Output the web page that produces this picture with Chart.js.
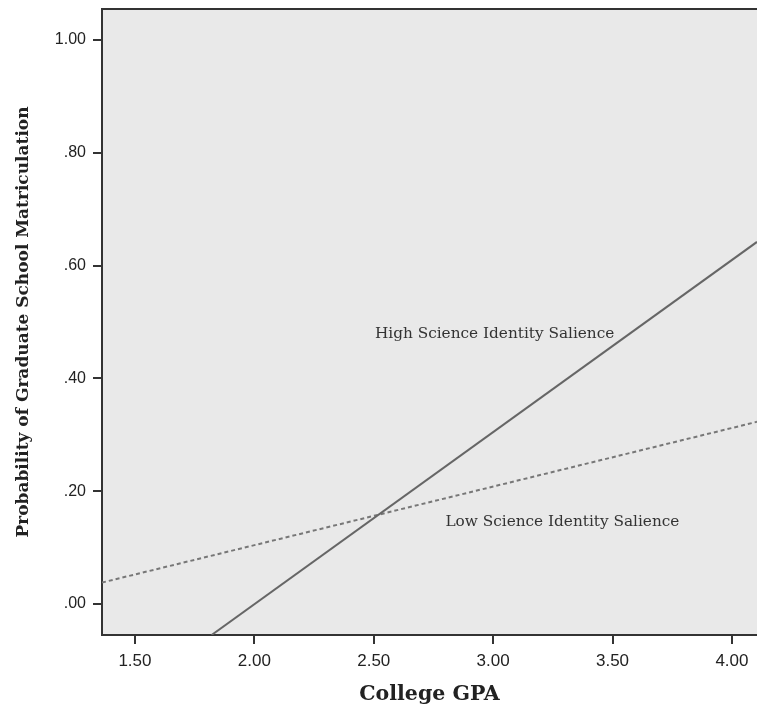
<!DOCTYPE html>
<html>
<head>
<meta charset="utf-8">
<script src="https://cdn.jsdelivr.net/npm/chart.js@4"></script>
<style>
  html, body { margin: 0; padding: 0; background: #fff; }
  #wrap { width: 757px; height: 711px; }
</style>
</head>
<body>
<div id="wrap"><canvas id="gpaChart" width="757" height="711"></canvas></div>
<script>
// values
const xTicks = [1.5, 2.0, 2.5, 3.0, 3.5, 4.0];
const yTicks = [0, 0.2, 0.4, 0.6, 0.8, 1.0];
const highX = [1.821, 4.105];
const highY = [-0.055, 0.642];
const lowX = [1.362, 4.105];
const lowY = [0.038, 0.323];
const lineLabels = [
    { text: 'High Science Identity Salience', x: 2.505, y: 0.479 },
    { text: 'Low Science Identity Salience', x: 2.80, y: 0.145 }
];

function fmt(v) {
    const s = v.toFixed(2);
    return s.startsWith('0') ? s.slice(1) : s;
}

const plotBg = {
    id: 'plotBg',
    beforeDraw(chart) {
        const { ctx, chartArea: a } = chart;
        ctx.save();
        ctx.fillStyle = '#e9e9e9';
        ctx.fillRect(a.left, a.top, a.right - a.left, a.bottom - a.top);
        ctx.strokeStyle = '#333';
        ctx.lineWidth = 2;
        ctx.beginPath();
        ctx.moveTo(a.left, a.top);
        ctx.lineTo(a.right, a.top);
        ctx.stroke();
        ctx.restore();
    },
    afterDatasetsDraw(chart) {
        const { ctx, scales } = chart;
        ctx.save();
        ctx.fillStyle = '#333';
        ctx.font = '15.3px "DejaVu Serif", serif';
        ctx.textAlign = 'left';
        ctx.textBaseline = 'middle';
        lineLabels.forEach(l => {
            ctx.fillText(l.text, scales.x.getPixelForValue(l.x), scales.y.getPixelForValue(l.y));
        });
        ctx.restore();
    }
};

const ctx = document.getElementById('gpaChart');
new Chart(ctx, {
    type: 'scatter',
    data: {
        datasets: [{
            label: 'High Science Identity Salience',
            data: highX.map((x, i) => ({ x: x, y: highY[i] })),
            showLine: true,
            borderColor: '#666',
            borderWidth: 2,
            pointRadius: 0
        }, {
            label: 'Low Science Identity Salience',
            data: lowX.map((x, i) => ({ x: x, y: lowY[i] })),
            showLine: true,
            borderColor: '#777',
            borderWidth: 2,
            borderDash: [4, 3],
            pointRadius: 0
        }]
    },
    options: {
        responsive: false,
        animation: false,
        layout: { padding: { top: 9, right: 0, left: 0, bottom: 0 } },
        plugins: { legend: { display: false }, tooltip: { enabled: false } },
        scales: {
            x: {
                type: 'linear',
                min: 1.362,
                max: 4.105,
                afterBuildTicks: s => { s.ticks = xTicks.map(v => ({ value: v })); },
                afterFit: s => { s.height = 76; s.paddingLeft = 0; s.paddingRight = 0; },
                grid: { drawOnChartArea: false, drawTicks: true, tickLength: 9, color: '#333', lineWidth: 2 },
                border: { display: true, color: '#333', width: 2 },
                ticks: {
                    callback: v => v.toFixed(2),
                    color: '#222',
                    padding: 7,
                    maxRotation: 0,
                    font: { family: '"Liberation Sans", Arial, sans-serif', size: 17 }
                },
                title: {
                    display: true,
                    text: 'College GPA',
                    color: '#222',
                    padding: { top: 3 },
                    font: { family: '"DejaVu Serif", serif', size: 20.5, weight: 'bold' }
                }
            },
            y: {
                type: 'linear',
                min: -0.055,
                max: 1.055,
                afterBuildTicks: s => { s.ticks = yTicks.map(v => ({ value: v })); },
                afterFit: s => { s.width = 102; s.paddingTop = 0; s.paddingBottom = 0; },
                grid: { drawOnChartArea: false, drawTicks: true, tickLength: 9, color: '#333', lineWidth: 2 },
                border: { display: true, color: '#333', width: 2 },
                ticks: {
                    callback: v => fmt(v),
                    color: '#222',
                    padding: 7,
                    font: { family: '"Liberation Sans", Arial, sans-serif', size: 16 }
                },
                title: {
                    display: true,
                    text: 'Probability of Graduate School Matriculation',
                    color: '#222',
                    padding: { top: 13, bottom: 4 },
                    font: { family: '"DejaVu Serif", serif', size: 17, weight: 'bold' }
                }
            }
        }
    },
    plugins: [plotBg]
});
</script>
</body>
</html>
